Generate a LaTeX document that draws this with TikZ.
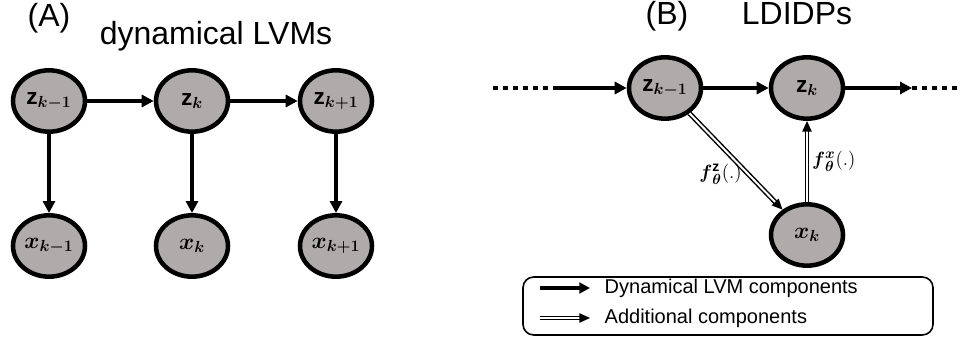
\documentclass[tikz,border=0pt]{standalone}
\usepackage{amsmath,amssymb}
\usepackage{fontspec}
\setmainfont{Liberation Sans}
\usepackage{tikz}
\usetikzlibrary{arrows.meta, shapes.geometric, positioning}

\definecolor{nodegray}{RGB}{175,171,170}

\begin{document}
\begin{tikzpicture}[x=0.75pt, y=-0.75pt,
    var/.style={ellipse, draw=black, line width=3.4pt, fill=nodegray,
        minimum width=54pt, minimum height=46pt, inner sep=0pt,
        font=\fontsize{17}{17}\selectfont},
    arr/.style={line width=3pt, -{Triangle[length=9pt, width=9pt]}},
    dbl/.style={draw=black, double=white, double distance=1.5pt, line width=1.1pt,
        -{Triangle[length=8pt, width=7pt]}},
    dots/.style={line width=3.5pt, dash pattern=on 3.75pt off 3.75pt},
    title/.style={font=\fontsize{24}{24}\selectfont, anchor=base},
    lgd/.style={font=\fontsize{15}{15}\selectfont, anchor=west}]
    \useasboundingbox (0,0) rectangle (969,341);

    % (A) dynamical LVMs
    \node[title] (labA) at (49,27) {(A)};
    \node[title] (titA) at (216,45) {dynamical LVMs};
    \node[var] (zkmA) at (49,101) {$\mathbf{z}_{\boldsymbol{k-1}}$};
    \node[var] (zkA) at (192,101) {$\mathbf{z}_{\boldsymbol{k}}$};
    \node[var] (zkpA) at (336,101) {$\mathbf{z}_{\boldsymbol{k+1}}$};
    \node[var] (xkmA) at (49,246) {$\boldsymbol{x}_{\boldsymbol{k-1}}$};
    \node[var] (xkA) at (192,246) {$\boldsymbol{x}_{\boldsymbol{k}}$};
    \node[var] (xkpA) at (336,246) {$\boldsymbol{x}_{\boldsymbol{k+1}}$};
    \draw[arr] (zkmA) -- (zkA);
    \draw[arr] (zkA) -- (zkpA);
    \draw[arr] (zkmA) -- (xkmA);
    \draw[arr] (zkA) -- (xkA);
    \draw[arr] (zkpA) -- (xkpA);

    % (B) LDIDPs
    \node[title] (labB) at (667,25) {(B)};
    \node[title] (titB) at (797,25) {LDIDPs};
    \node[var] (zkmB) at (665,88) {$\mathbf{z}_{\boldsymbol{k-1}}$};
    \node[var] (zkB) at (807,88) {$\mathbf{z}_{\boldsymbol{k}}$};
    \node[var] (xkB) at (807,235) {$\boldsymbol{x}_{\boldsymbol{k}}$};
    \coordinate (inS) at (493,88);
    \coordinate (inE) at (555,88);
    \coordinate (outS) at (912,88);
    \coordinate (outE) at (962,88);
    \draw[dots] (inS) -- (inE);
    \draw[arr] (inE) -- (zkmB);
    \draw[arr] (zkmB) -- (zkB);
    \draw[arr] (zkB) -- (outS);
    \draw[dots] (outS) -- (outE);
    \draw[dbl] (zkmB) -- (xkB)
        node[pos=0.63, left=1pt, font=\fontsize{15}{15}\selectfont]
        {$\boldsymbol{f}_{\boldsymbol{\theta}}^{\mathbf{z}}(.)$};
    \draw[dbl] (xkB) -- (zkB)
        node[midway, right=0pt, font=\fontsize{15}{15}\selectfont]
        {$\boldsymbol{f}_{\boldsymbol{\theta}}^{\boldsymbol{x}}(.)$};

    % legend
    \draw[line width=1.2pt, rounded corners=8pt] (523,277) rectangle (933,335);
    \coordinate (l1s) at (540,288);
    \coordinate (l1e) at (590,288);
    \coordinate (l2s) at (540,318);
    \coordinate (l2e) at (590,318);
    \draw[line width=2.6pt, -{Triangle[length=8pt, width=8pt]}] (l1s) -- (l1e);
    \draw[dbl] (l2s) -- (l2e);
    \node[lgd] (lg1) at (600,288) {Dynamical LVM components};
    \node[lgd] (lg2) at (600,318) {Additional components};
\end{tikzpicture}
\end{document}
